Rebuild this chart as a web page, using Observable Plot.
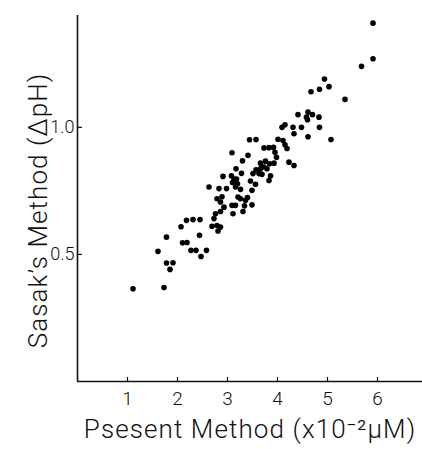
<!DOCTYPE html>
<html><head><meta charset="utf-8">
<script src="https://cdn.jsdelivr.net/npm/d3@7"></script>
<script src="https://cdn.jsdelivr.net/npm/@observablehq/plot@0.6"></script>
<style>body{margin:0;background:#fff}</style>
</head><body><div id="chart"></div>
<script>
// Present method (x10^-2 μM)
const presentX = [5.91,5.91,5.68,4.94,4.84,5.03,4.67,5.35,4.41,4.61,4.58,4.70,4.83,4.60,4.15,4.09,4.31,4.48,4.84,
  4.33,4.61,5.07,3.44,3.57,4.01,4.11,4.15,4.19,3.73,3.83,3.92,3.95,3.98,3.41,3.30,3.66,3.76,3.84,3.93,3.73,3.66,3.79,
  4.23,4.33,3.51,3.57,3.63,3.69,3.86,3.83,3.46,3.56,3.28,3.49,3.26,3.40,3.36,3.49,3.34,3.31,
  3.09,3.17,2.91,3.08,3.13,3.18,3.10,3.20,3.16,2.63,2.83,2.98,2.89,2.79,2.86,3.21,3.26,3.09,3.16,2.93,2.86,2.76,3.11,
  2.73,2.18,2.31,2.45,2.69,2.79,2.86,2.81,2.07,1.78,2.44,2.10,2.19,1.61,2.27,2.37,2.58,2.47,1.78,1.91,1.85,1.11,1.73];
// Sasak's method (ΔpH)
const sasakY = [1.41,1.27,1.24,1.19,1.15,1.16,1.14,1.11,1.05,1.06,1.04,1.05,1.04,1.03,1.01,1.00,1.00,1.00,1.00,
  0.975,0.963,0.952,0.951,0.952,0.953,0.948,0.931,0.917,0.919,0.920,0.921,0.902,0.882,0.890,0.868,0.859,0.867,0.857,0.859,0.844,0.837,0.837,
  0.863,0.850,0.818,0.833,0.818,0.815,0.809,0.791,0.789,0.776,0.819,0.752,0.756,0.724,0.713,0.695,0.691,0.669,
  0.900,0.837,0.807,0.809,0.797,0.797,0.783,0.778,0.765,0.765,0.759,0.759,0.727,0.719,0.706,0.726,0.719,0.693,0.693,0.686,0.669,0.660,0.660,
  0.641,0.634,0.637,0.637,0.611,0.614,0.608,0.592,0.609,0.568,0.575,0.546,0.547,0.512,0.516,0.516,0.516,0.492,0.466,0.467,0.441,0.365,0.370];
const xTicks = [1, 2, 3, 4, 5, 6];
const yTicks = [0.5, 1.0];
const xTitle = "Psesent Method (x10⁻²μM)";
const yTitle = "Sasak’s Method (ΔpH)";

const data = presentX.map((x, i) => ({x, y: sasakY[i]}));

const chart = Plot.plot({
  width: 422, height: 449,
  marginLeft: 77, marginRight: 0, marginTop: 15, marginBottom: 68,
  x: {domain: [0, 6.9]},
  y: {domain: [0, 1.44]},
  style: {fontFamily: "Roboto", fontWeight: 300, background: "#fff", color: "#111"},
  marks: [
    Plot.ruleY([0], {stroke: "#111", strokeWidth: 1.6}),
    Plot.ruleX([0], {stroke: "#111", strokeWidth: 1.6}),
    Plot.ruleX(xTicks, {x: d => d, y1: 0, y2: 0.016, stroke: "#111", strokeWidth: 1.2}),
    Plot.ruleY(yTicks, {y: d => d, x1: 0, x2: 0.1, stroke: "#111", strokeWidth: 1.2}),
    Plot.axisX(xTicks, {tickSize: 0, tickPadding: 10, fontSize: 19, label: null}),
    Plot.axisY(yTicks, {tickSize: 0, tickPadding: 3, fontSize: 18, tickFormat: d => d.toFixed(1), label: null}),
    Plot.text([xTitle], {text: d => d, frameAnchor: "bottom", dy: 48, fontSize: 26, lineAnchor: "middle", textAnchor: "middle", fill: "#111"}),
    Plot.text([yTitle], {text: d => d, frameAnchor: "left", dx: -39, dy: 12, rotate: -90, fontSize: 26, lineAnchor: "middle", textAnchor: "middle", fill: "#111"}),
    Plot.dot(data, {x: "x", y: "y", r: 2.8, fill: "#000", stroke: "none"})
  ]
});
d3.select(chart).selectAll('g[aria-label="text"] text').style("letter-spacing", "1.1px");
document.getElementById("chart").append(chart);
</script>
</body></html>
